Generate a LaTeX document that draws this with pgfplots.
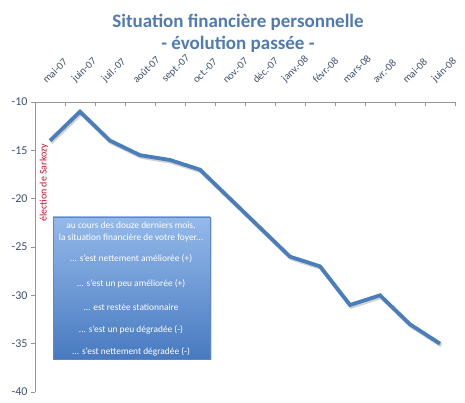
\documentclass[border=0pt]{standalone}
\usepackage{fontspec}
\setmainfont{Carlito}
\usepackage{pgfplots}
\pgfplotsset{compat=1.18}
\usetikzlibrary{shadows}
\definecolor{linecol}{RGB}{74,126,187}
\definecolor{titlecol}{RGB}{79,122,178}
\definecolor{labcol}{RGB}{62,80,112}
\definecolor{axcol}{RGB}{150,150,150}
\definecolor{boxtop}{RGB}{148,185,234}
\definecolor{boxbot}{RGB}{72,122,192}
\definecolor{boxborder}{RGB}{95,135,190}
\definecolor{sarko}{RGB}{200,16,40}
\pgfplotstableread{
x y
0 -14
1 -11
2 -14
3 -15.5
4 -16
5 -17
6 -20
7 -23
8 -26
9 -27
10 -31
11 -30
12 -33
13 -35
}\datatable
\begin{document}
\begin{tikzpicture}
\useasboundingbox (0,0) rectangle (465pt,403pt);
\begin{axis}[
  at={(35pt,11pt)}, anchor=south west,
  scale only axis, width=420pt, height=290pt,
  xmin=-0.5, xmax=13.5, ymin=-40, ymax=-10,
  axis x line*=top, axis y line*=left,
  axis line style={axcol, line width=0.6pt},
  xtick={0,...,13},
  xticklabels={mai-07,juin-07,juil.-07,août-07,sept.-07,oct.-07,nov.-07,déc.-07,janv.-08,févr.-08,mars-08,avr.-08,mai-08,juin-08},
  major x tick style={draw=none},
  minor xtick={-0.5,0.5,...,13.5},
  minor x tick style={axcol, line width=0.6pt, yshift=-4pt},
  minor tick length=4pt,
  ytick={-40,-35,...,-10},
  y tick style={axcol, line width=0.6pt},
  major tick length=4pt,
  tick align=outside,
  xticklabel style={font=\fontsize{10.5}{12}\selectfont, color=labcol, xshift=-3pt, yshift=9pt, rotate=45, anchor=south west},
  yticklabel style={font=\fontsize{12}{14}\selectfont, color=labcol},
  /pgf/number format/assume math mode=true,
  clip=false,
]
\addplot[black, opacity=0.18, line width=3.8pt, shift={(1.2pt,-1.8pt)}] table[x=x,y=y] {\datatable};
\addplot[linecol, line width=3.8pt] table[x=x,y=y] {\datatable};
\end{axis}
\node[font=\bfseries\fontsize{19}{22}\selectfont, color=titlecol] at (238pt,381pt) {Situation financière personnelle};
\node[font=\bfseries\fontsize{19}{22}\selectfont, color=titlecol] at (238pt,359pt) {- évolution passée -};
\node[rotate=90, font=\fontsize{10}{12}\selectfont, color=sarko] at (44pt,220pt) {élection de Sarkozy};
\shade[top color=boxtop, bottom color=boxbot, draw=boxborder, drop shadow={opacity=0.3, shadow xshift=1.5pt, shadow yshift=-1.5pt}] (53pt,44pt) rectangle (210pt,186pt);
\begin{scope}[every node/.style={font=\fontsize{9.4}{11}\selectfont, color=white}]
\node at (131pt,177pt) {au cours des douze derniers mois,};
\node at (131pt,165pt) {la situation financière de votre foyer...};
\node at (131pt,144pt) {... s'est nettement améliorée (+)};
\node at (131pt,119pt) {... s'est un peu améliorée (+)};
\node at (131pt,96pt) {... est restée stationnaire};
\node at (131pt,73pt) {... s'est un peu dégradée (-)};
\node at (131pt,51pt) {... s'est nettement dégradée (-)};
\end{scope}
\end{tikzpicture}
\end{document}
